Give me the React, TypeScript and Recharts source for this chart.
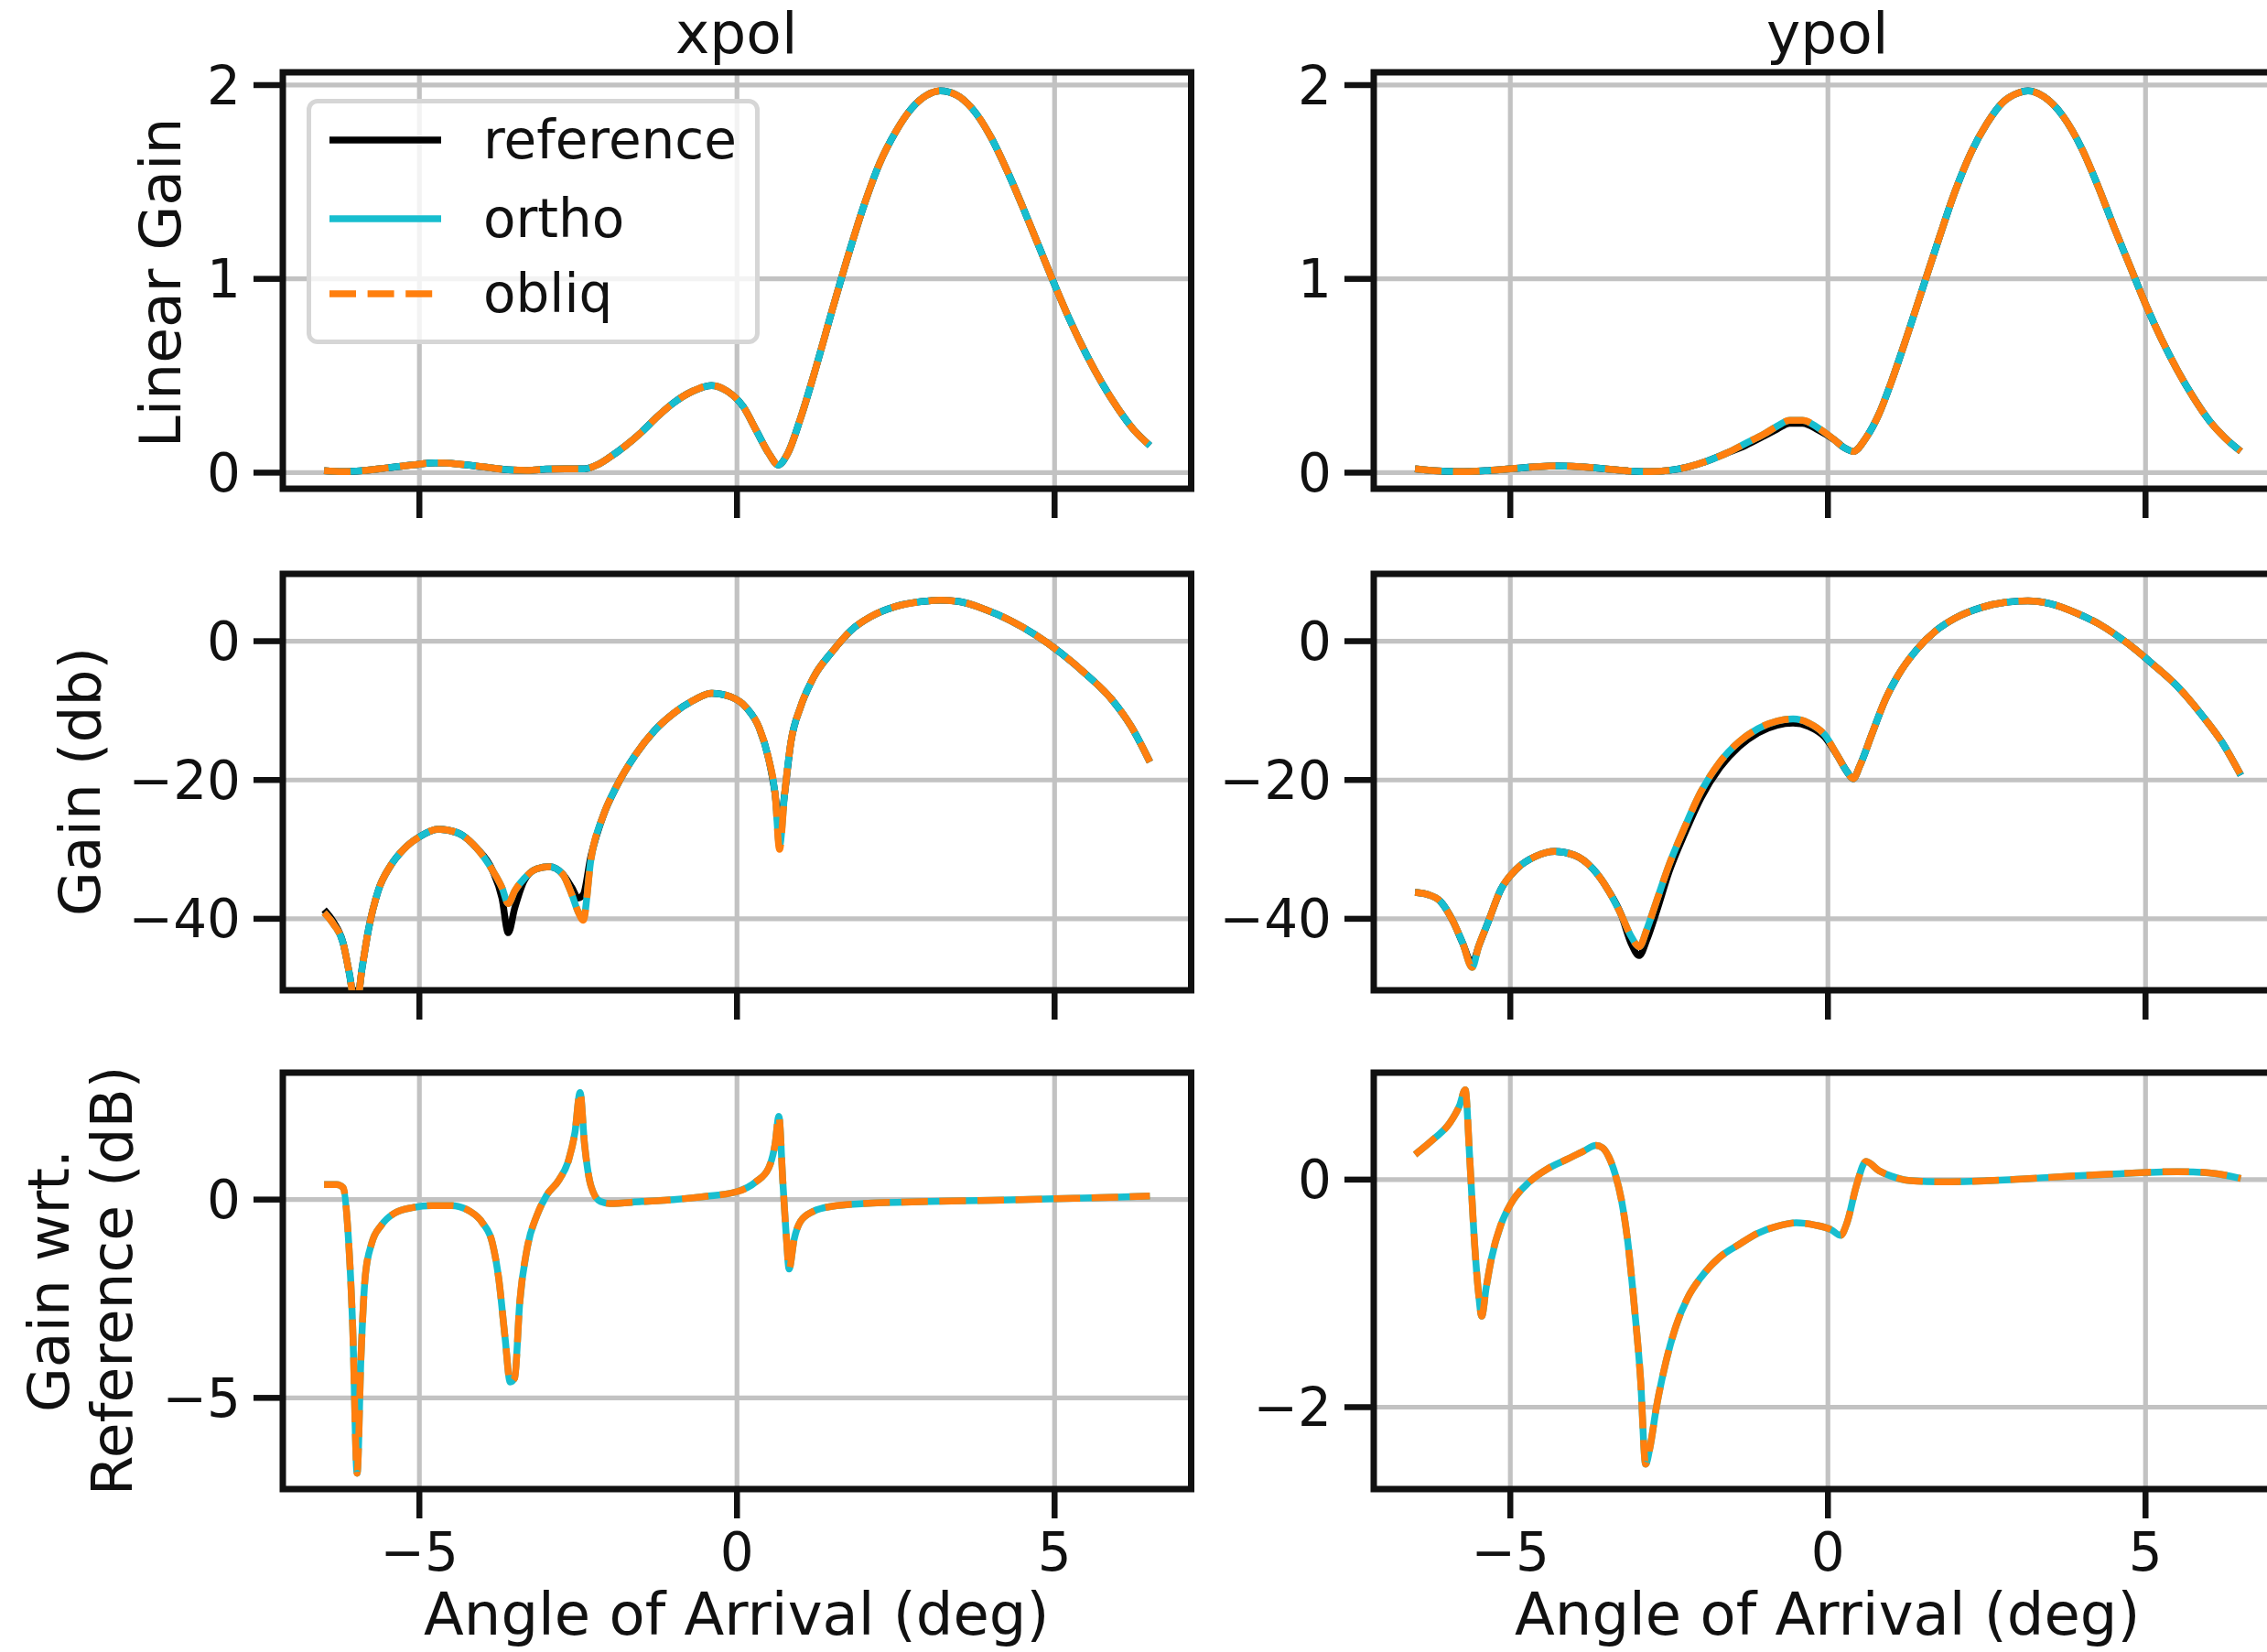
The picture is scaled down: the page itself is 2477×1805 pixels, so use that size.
import { CartesianGrid, Legend, Line, LineChart, ReferenceArea, XAxis, YAxis } from 'recharts'

const FONT = '"DejaVu Sans", Verdana, sans-serif'
const INK = '#111111'

// ---- series look ----
const seriesNames = ['reference', 'ortho', 'obliq']
const seriesColors = ['#000000', '#17becf', '#ff7f0e']

// ---- ticks ----
const angleTicks = [-5, 0, 5]
const linTicks = [0, 1, 2]
const dbTicks = [-40, -20, 0]
const xpolRelTicks = [-5, 0]
const ypolRelTicks = [-2, 0]

// ---- top row: linear gain ----
const xpolLinAngle = [-6.5, -6.2, -5.9, -5.5, -5.1, -4.75, -4.4, -4.0, -3.6, -3.3, -3.0, -2.7, -2.4, -2.2, -2.0, -1.75, -1.5, -1.25, -1.0, -0.7, -0.4, -0.15, 0.1, 0.3, 0.5, 0.65, 0.8, 1.0, 1.25, 1.5, 1.75, 2.0, 2.25, 2.5, 2.75, 3.0, 3.2, 3.45, 3.7, 4.0, 4.25, 4.5, 4.75, 5.0, 5.25, 5.5, 5.75, 6.0, 6.25, 6.5]
const xpolLinRef = [0.01, 0.005, 0.01, 0.025, 0.04, 0.05, 0.045, 0.03, 0.015, 0.012, 0.018, 0.02, 0.02, 0.04, 0.08, 0.14, 0.21, 0.29, 0.36, 0.42, 0.45, 0.42, 0.34, 0.22, 0.1, 0.04, 0.1, 0.28, 0.55, 0.84, 1.12, 1.38, 1.6, 1.76, 1.88, 1.95, 1.97, 1.95, 1.88, 1.73, 1.56, 1.37, 1.17, 0.97, 0.78, 0.61, 0.46, 0.33, 0.22, 0.14]
const xpolLinOrtho = [0.01, 0.005, 0.01, 0.025, 0.04, 0.05, 0.045, 0.03, 0.015, 0.012, 0.018, 0.02, 0.02, 0.04, 0.08, 0.14, 0.21, 0.29, 0.36, 0.42, 0.45, 0.42, 0.34, 0.22, 0.1, 0.04, 0.1, 0.28, 0.55, 0.84, 1.12, 1.38, 1.6, 1.76, 1.88, 1.95, 1.97, 1.95, 1.88, 1.73, 1.56, 1.37, 1.17, 0.97, 0.78, 0.61, 0.46, 0.33, 0.22, 0.14]
const xpolLinObliq = [0.01, 0.005, 0.01, 0.025, 0.04, 0.05, 0.045, 0.03, 0.015, 0.012, 0.018, 0.02, 0.02, 0.04, 0.08, 0.14, 0.21, 0.29, 0.36, 0.42, 0.45, 0.42, 0.34, 0.22, 0.1, 0.04, 0.1, 0.28, 0.55, 0.84, 1.12, 1.38, 1.6, 1.76, 1.88, 1.95, 1.97, 1.95, 1.88, 1.73, 1.56, 1.37, 1.17, 0.97, 0.78, 0.61, 0.46, 0.33, 0.22, 0.14]

const ypolLinAngle = [-6.5, -6.2, -5.8, -5.4, -5.0, -4.6, -4.3, -3.9, -3.5, -3.1, -2.8, -2.5, -2.2, -1.9, -1.6, -1.3, -1.0, -0.8, -0.6, -0.4, -0.15, 0.1, 0.25, 0.4, 0.6, 0.8, 1.0, 1.25, 1.5, 1.75, 2.0, 2.25, 2.5, 2.75, 3.0, 3.15, 3.4, 3.7, 4.0, 4.25, 4.5, 4.75, 5.0, 5.25, 5.5, 5.75, 6.0, 6.25, 6.5]
const ypolLinRef = [0.02, 0.01, 0.005, 0.01, 0.02, 0.03, 0.035, 0.03, 0.02, 0.008, 0.005, 0.012, 0.03, 0.06, 0.1, 0.14, 0.19, 0.225, 0.255, 0.255, 0.22, 0.17, 0.13, 0.11, 0.18, 0.3, 0.47, 0.71, 0.96, 1.21, 1.45, 1.65, 1.8, 1.91, 1.96, 1.97, 1.94, 1.84, 1.67, 1.48, 1.27, 1.07, 0.87, 0.69, 0.53, 0.39, 0.27, 0.18, 0.11]
const ypolLinOrtho = [0.02, 0.01, 0.005, 0.01, 0.02, 0.03, 0.035, 0.03, 0.02, 0.008, 0.005, 0.012, 0.03, 0.06, 0.1, 0.15, 0.2, 0.24, 0.27, 0.27, 0.23, 0.17, 0.13, 0.11, 0.18, 0.3, 0.47, 0.71, 0.96, 1.21, 1.45, 1.65, 1.8, 1.91, 1.96, 1.97, 1.94, 1.84, 1.67, 1.48, 1.27, 1.07, 0.87, 0.69, 0.53, 0.39, 0.27, 0.18, 0.11]
const ypolLinObliq = [0.02, 0.01, 0.005, 0.01, 0.02, 0.03, 0.035, 0.03, 0.02, 0.008, 0.005, 0.012, 0.03, 0.06, 0.1, 0.15, 0.2, 0.24, 0.27, 0.27, 0.23, 0.17, 0.13, 0.11, 0.18, 0.3, 0.47, 0.71, 0.96, 1.21, 1.45, 1.65, 1.8, 1.91, 1.96, 1.97, 1.94, 1.84, 1.67, 1.48, 1.27, 1.07, 0.87, 0.69, 0.53, 0.39, 0.27, 0.18, 0.11]

// ---- middle row: gain in dB ----
const xpolDbAngle = [-6.5, -6.35, -6.2, -6.1, -6.0, -5.9, -5.8, -5.65, -5.45, -5.25, -5.0, -4.7, -4.4, -4.1, -3.85, -3.7, -3.6, -3.5, -3.35, -3.15, -2.95, -2.75, -2.6, -2.5, -2.42, -2.3, -2.1, -1.9, -1.6, -1.3, -1.0, -0.7, -0.4, -0.1, 0.15, 0.35, 0.5, 0.6, 0.67, 0.75, 0.85, 1.0, 1.2, 1.5, 1.8, 2.1, 2.5, 2.9, 3.2, 3.5, 3.9, 4.3, 4.7, 5.1, 5.5, 5.9, 6.2, 6.5]
const xpolDbRef = [-38.7, -40.5, -43.5, -48, -53, -47, -41.5, -36, -32.3, -30.0, -28.2, -27.1, -27.6, -29.8, -33.0, -37, -42, -38.5, -34.5, -32.8, -32.5, -33.5, -35.5, -37, -36.5, -31.0, -25.0, -21.0, -16.4, -12.9, -10.4, -8.6, -7.5, -8.0, -9.6, -12.5, -17, -22, -27.5, -22, -14.5, -9.5, -5.3, -1.5, 1.6, 3.5, 5.0, 5.7, 5.9, 5.7, 4.6, 3.0, 0.9, -1.7, -4.8, -8.4, -12.2, -17.4]
const xpolDbOrtho = [-39.1, -40.8, -43.5, -48, -53, -47, -41.5, -36, -32.3, -30.0, -28.2, -27.1, -27.6, -29.8, -33.0, -35.5, -37.8, -36.0, -34.2, -32.8, -32.5, -33.5, -36.5, -39.0, -40.0, -31.5, -25.0, -21.0, -16.4, -12.9, -10.4, -8.6, -7.5, -8.0, -9.6, -12.5, -17, -22, -29.5, -22, -14.5, -9.5, -5.3, -1.5, 1.6, 3.5, 5.0, 5.7, 5.9, 5.7, 4.6, 3.0, 0.9, -1.7, -4.8, -8.4, -12.2, -17.4]
const xpolDbObliq = [-39.1, -40.8, -43.5, -48, -53, -47, -41.5, -36, -32.3, -30.0, -28.2, -27.1, -27.6, -29.8, -33.0, -35.5, -37.8, -36.0, -34.2, -32.8, -32.5, -33.5, -36.5, -39.0, -40.2, -31.5, -25.0, -21.0, -16.4, -12.9, -10.4, -8.6, -7.5, -8.0, -9.6, -12.5, -17, -22, -30, -22, -14.5, -9.5, -5.3, -1.5, 1.6, 3.5, 5.0, 5.7, 5.9, 5.7, 4.6, 3.0, 0.9, -1.7, -4.8, -8.4, -12.2, -17.4]

const ypolDbAngle = [-6.5, -6.3, -6.1, -5.9, -5.75, -5.6, -5.5, -5.35, -5.15, -4.9, -4.6, -4.3, -4.0, -3.7, -3.45, -3.25, -3.1, -2.97, -2.85, -2.7, -2.5, -2.25, -2.0, -1.7, -1.4, -1.1, -0.8, -0.55, -0.3, -0.05, 0.15, 0.3, 0.4, 0.5, 0.7, 0.9, 1.1, 1.4, 1.7, 2.0, 2.4, 2.8, 3.15, 3.5, 3.9, 4.3, 4.7, 5.1, 5.5, 5.9, 6.2, 6.5]
const ypolDbRef = [-36.2, -36.5, -37.5, -40.4, -43.5, -46.5, -44, -40.5, -35.8, -32.8, -31.0, -30.3, -30.8, -32.8, -36, -39.5, -43.5, -45.3, -43, -39, -33.2, -27.6, -22.6, -18.2, -15.2, -13.2, -12.1, -11.8, -12.3, -13.8, -16.5, -18.8, -19.8, -18, -13.2, -8.5, -5.0, -1.2, 1.5, 3.3, 4.8, 5.6, 5.8, 5.4, 4.1, 2.3, -0.2, -3.2, -6.5, -10.8, -14.5, -19.3]
const ypolDbOrtho = [-36.2, -36.5, -37.5, -40.4, -43.5, -47, -44, -40.5, -35.8, -32.8, -31.0, -30.3, -30.8, -32.8, -36, -39.5, -42.5, -44, -41.5, -37.5, -32.2, -26.7, -21.7, -17.4, -14.5, -12.6, -11.5, -11.2, -11.8, -13.5, -16.5, -18.8, -19.8, -18, -13.2, -8.5, -5.0, -1.2, 1.5, 3.3, 4.8, 5.6, 5.8, 5.4, 4.1, 2.3, -0.2, -3.2, -6.5, -10.8, -14.5, -19.3]
const ypolDbObliq = [-36.2, -36.5, -37.5, -40.4, -43.5, -47, -44, -40.5, -35.8, -32.8, -31.0, -30.3, -30.8, -32.8, -36, -39.5, -42.5, -44, -41.5, -37.5, -32.2, -26.7, -21.7, -17.4, -14.5, -12.6, -11.5, -11.2, -11.8, -13.5, -16.5, -18.8, -19.8, -18, -13.2, -8.5, -5.0, -1.2, 1.5, 3.3, 4.8, 5.6, 5.8, 5.4, 4.1, 2.3, -0.2, -3.2, -6.5, -10.8, -14.5, -19.3]

// ---- bottom row: gain relative to reference (dB) ----
const xpolRelAngle = [-6.5, -6.3, -6.2, -6.12, -6.05, -5.98, -5.92, -5.85, -5.75, -5.6, -5.4, -5.1, -4.8, -4.5, -4.2, -4.0, -3.85, -3.75, -3.65, -3.57, -3.5, -3.42, -3.3, -3.15, -3.0, -2.8, -2.65, -2.55, -2.47, -2.4, -2.3, -2.15, -2.0, -1.5, -1.0, -0.5, 0.0, 0.3, 0.5, 0.6, 0.66, 0.72, 0.78, 0.82, 0.9, 1.0, 1.2, 1.5, 2.0, 3.0, 4.0, 5.0, 6.0, 6.5]
const xpolRelOrtho = [0.38, 0.38, 0.3, -0.9, -3.2, -6.9, -4.0, -1.9, -1.1, -0.65, -0.35, -0.2, -0.15, -0.15, -0.3, -0.6, -1.1, -2.0, -3.5, -4.6, -4.5, -2.6, -1.2, -0.4, 0.1, 0.5, 1.0, 1.7, 2.7, 1.4, 0.35, -0.05, -0.1, -0.05, 0.0, 0.08, 0.2, 0.45, 0.8, 1.4, 2.1, 0.5, -1.0, -1.75, -1.0, -0.55, -0.3, -0.17, -0.1, -0.05, -0.02, 0.02, 0.06, 0.09]
const xpolRelObliq = [0.38, 0.38, 0.3, -0.9, -3.2, -6.9, -4.0, -1.9, -1.1, -0.65, -0.35, -0.2, -0.15, -0.15, -0.3, -0.6, -1.1, -2.0, -3.5, -4.6, -4.5, -2.6, -1.2, -0.4, 0.1, 0.5, 1.0, 1.7, 2.7, 1.4, 0.35, -0.05, -0.1, -0.05, 0.0, 0.08, 0.2, 0.45, 0.8, 1.4, 2.1, 0.5, -1.0, -1.75, -1.0, -0.55, -0.3, -0.17, -0.1, -0.05, -0.02, 0.02, 0.06, 0.09]

const ypolRelAngle = [-6.5, -6.2, -5.95, -5.8, -5.71, -5.64, -5.57, -5.5, -5.45, -5.38, -5.3, -5.15, -5.0, -4.7, -4.4, -4.1, -3.85, -3.65, -3.55, -3.45, -3.35, -3.25, -3.15, -3.05, -2.95, -2.87, -2.8, -2.7, -2.55, -2.4, -2.2, -2.0, -1.7, -1.4, -1.1, -0.8, -0.5, -0.2, 0.05, 0.2, 0.3, 0.45, 0.6, 0.8, 1.0, 1.3, 1.8, 2.5, 3.5, 4.5, 5.5, 6.0, 6.5]
const ypolRelOrtho = [0.22, 0.36, 0.5, 0.65, 0.79, 0.2, -0.5, -1.0, -1.2, -0.95, -0.7, -0.4, -0.22, -0.02, 0.1, 0.18, 0.25, 0.3, 0.28, 0.2, 0.05, -0.18, -0.55, -1.1, -1.75, -2.5, -2.35, -2.0, -1.6, -1.3, -1.03, -0.86, -0.68, -0.57, -0.47, -0.41, -0.38, -0.4, -0.44, -0.49, -0.38, -0.05, 0.16, 0.08, 0.03, -0.01, -0.02, -0.01, 0.02, 0.05, 0.07, 0.06, 0.01]
const ypolRelObliq = [0.22, 0.36, 0.5, 0.65, 0.79, 0.2, -0.5, -1.0, -1.2, -0.95, -0.7, -0.4, -0.22, -0.02, 0.1, 0.18, 0.25, 0.3, 0.28, 0.2, 0.05, -0.18, -0.55, -1.1, -1.75, -2.5, -2.35, -2.0, -1.6, -1.3, -1.03, -0.86, -0.68, -0.57, -0.47, -0.41, -0.38, -0.4, -0.44, -0.49, -0.38, -0.05, 0.16, 0.08, 0.03, -0.01, -0.02, -0.01, 0.02, 0.05, 0.07, 0.06, 0.01]

// ---- layout (px) ----
const X_DOMAIN: [number, number] = [-7.15, 7.15]
const PLOT_W = 992.5
const PLOT_H = 455
const COL_X = [308.5, 1500.5]
const ROW_Y = [78.5, 626.5, 1172]
const AXIS_W = 200
const PAD = 20
const AXIS_H = 130
const LINE_W = 7.5

const fmt = (v: number) => (v < 0 ? `\u2212${Math.abs(v)}` : `${v}`)
const blank = () => ''

const buildRows = (angle: number[], ortho: number[], obliq: number[], ref?: number[]) =>
  angle.map((a, i) => ({ angle: a, reference: ref ? ref[i] : undefined, ortho: ortho[i], obliq: obliq[i] }))

const LegendBox = () => {
  const rowsY = [40, 126, 208]
  return (
    <div
      style={{
        boxSizing: 'border-box',
        width: 495,
        height: 268,
        border: '5px solid #d6d6d6',
        borderRadius: 12,
        background: 'rgba(255,255,255,0.8)',
      }}
    >
      <svg width={485} height={258} style={{ display: 'block' }}>
        {seriesNames.map((name, i) => (
          <g key={name}>
            <line
              x1={20}
              x2={142}
              y1={rowsY[i]}
              y2={rowsY[i]}
              stroke={seriesColors[i]}
              strokeWidth={LINE_W}
              strokeDasharray={i === 2 ? '29 12.6' : undefined}
            />
            <text x={188} y={rowsY[i]} dominantBaseline="central" fontSize={58} fontFamily={FONT} fill={INK}>
              {name}
            </text>
          </g>
        ))}
      </svg>
    </div>
  )
}

type PanelProps = {
  col: number
  row: number
  rows: Array<Record<string, number | undefined>>
  yDomain: [number, number]
  yTicks: number[]
  withRef?: boolean
  showX?: boolean
  legend?: boolean
}

const Panel = ({ col, row, rows, yDomain, yTicks, withRef, showX, legend }: PanelProps) => {
  const left = COL_X[col] - AXIS_W
  const top = ROW_Y[row] - PAD
  const tickStyle = { fontSize: 58, fontFamily: FONT, fill: INK }
  return (
    <div style={{ position: 'absolute', left, top }}>
      <LineChart
        width={AXIS_W + PLOT_W + PAD}
        height={PAD + PLOT_H + AXIS_H}
        data={rows}
        margin={{ top: PAD, right: PAD, bottom: 0, left: 0 }}
      >
        <CartesianGrid stroke="#c2c2c2" strokeWidth={5.2} />
        <XAxis
          dataKey="angle"
          type="number"
          domain={X_DOMAIN}
          ticks={angleTicks}
          allowDataOverflow
          interval={0}
          axisLine={false}
          tickLine={{ stroke: INK, strokeWidth: 6.5 }}
          tickSize={32}
          tickMargin={16}
          height={AXIS_H}
          tick={tickStyle}
          tickFormatter={showX ? fmt : blank}
        />
        <YAxis
          type="number"
          domain={yDomain}
          ticks={yTicks}
          allowDataOverflow
          interval={0}
          axisLine={false}
          tickLine={{ stroke: INK, strokeWidth: 6.5 }}
          tickSize={32}
          tickMargin={14}
          width={AXIS_W}
          tick={tickStyle}
          tickFormatter={fmt}
        />
        {withRef && (
          <Line
            type="monotone"
            dataKey="reference"
            name={seriesNames[0]}
            stroke={seriesColors[0]}
            strokeWidth={LINE_W}
            strokeLinejoin="round"
            dot={false}
            activeDot={false}
            isAnimationActive={false}
          />
        )}
        <Line
          type="monotone"
          dataKey="ortho"
          name={seriesNames[1]}
          stroke={seriesColors[1]}
          strokeWidth={LINE_W}
          strokeLinejoin="round"
          dot={false}
          activeDot={false}
          isAnimationActive={false}
        />
        <Line
          type="monotone"
          dataKey="obliq"
          name={seriesNames[2]}
          stroke={seriesColors[2]}
          strokeWidth={LINE_W}
          strokeLinejoin="round"
          strokeDasharray="29 12.6"
          dot={false}
          activeDot={false}
          isAnimationActive={false}
        />
        <ReferenceArea
          x1={X_DOMAIN[0]}
          x2={X_DOMAIN[1]}
          y1={yDomain[0]}
          y2={yDomain[1]}
          fill="none"
          fillOpacity={0}
          stroke={INK}
          strokeWidth={7}
          ifOverflow="visible"
        />
        {legend && (
          <Legend
            layout="horizontal"
            align="center"
            verticalAlign="middle"
            content={() => <LegendBox />}
            wrapperStyle={{ left: 335 - left, top: 108 - top, width: 495, height: 268 }}
          />
        )}
      </LineChart>
    </div>
  )
}

const colMid = (c: number) => COL_X[c] + PLOT_W / 2
const rowMid = (r: number) => ROW_Y[r] + PLOT_H / 2

export default function App() {
  const labelFont = { fontFamily: FONT, fontSize: 63, fill: INK }
  return (
    <div
      style={{
        position: 'absolute',
        left: 0,
        top: 0,
        width: 2477,
        height: 1805,
        overflow: 'hidden',
        background: '#ffffff',
      }}
    >
      <Panel col={0} row={0} rows={buildRows(xpolLinAngle, xpolLinOrtho, xpolLinObliq, xpolLinRef)} yDomain={[-0.083, 2.066]} yTicks={linTicks} withRef legend />
      <Panel col={1} row={0} rows={buildRows(ypolLinAngle, ypolLinOrtho, ypolLinObliq, ypolLinRef)} yDomain={[-0.083, 2.066]} yTicks={linTicks} withRef />
      <Panel col={0} row={1} rows={buildRows(xpolDbAngle, xpolDbOrtho, xpolDbObliq, xpolDbRef)} yDomain={[-50.3, 9.7]} yTicks={dbTicks} withRef />
      <Panel col={1} row={1} rows={buildRows(ypolDbAngle, ypolDbOrtho, ypolDbObliq, ypolDbRef)} yDomain={[-50.3, 9.7]} yTicks={dbTicks} withRef />
      <Panel col={0} row={2} rows={buildRows(xpolRelAngle, xpolRelOrtho, xpolRelObliq)} yDomain={[-7.3, 3.2]} yTicks={xpolRelTicks} showX />
      <Panel col={1} row={2} rows={buildRows(ypolRelAngle, ypolRelOrtho, ypolRelObliq)} yDomain={[-2.72, 0.94]} yTicks={ypolRelTicks} showX />

      <svg width={2477} height={1805} style={{ position: 'absolute', left: 0, top: 0, pointerEvents: 'none' }}>
        <text x={colMid(0)} y={57.5} textAnchor="middle" {...labelFont}>xpol</text>
        <text x={colMid(1)} y={57.5} textAnchor="middle" {...labelFont}>ypol</text>
        <text x={colMid(0)} y={1786} textAnchor="middle" {...labelFont} fontSize={64}>Angle of Arrival (deg)</text>
        <text x={colMid(1)} y={1786} textAnchor="middle" {...labelFont} fontSize={64}>Angle of Arrival (deg)</text>
        <text transform={`translate(197, ${rowMid(0) + 3}) rotate(-90)`} textAnchor="middle" {...labelFont}>Linear Gain</text>
        <text transform={`translate(109, ${rowMid(1)}) rotate(-90)`} textAnchor="middle" {...labelFont}>Gain (db)</text>
        <text transform={`translate(75, ${rowMid(2)}) rotate(-90)`} textAnchor="middle" {...labelFont}>Gain wrt.</text>
        <text transform={`translate(144, ${rowMid(2)}) rotate(-90)`} textAnchor="middle" {...labelFont}>Reference (dB)</text>
      </svg>
    </div>
  )
}
